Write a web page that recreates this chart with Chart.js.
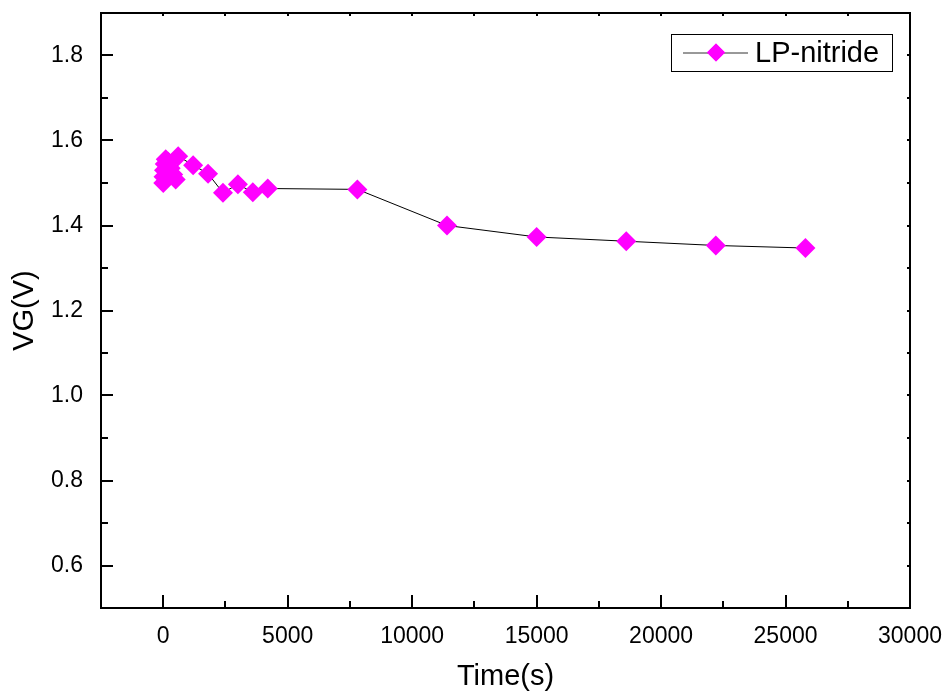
<!DOCTYPE html>
<html>
<head>
<meta charset="utf-8">
<script src="https://cdn.jsdelivr.net/npm/chart.js@4"></script>
<style>
  html, body { margin: 0; padding: 0; background: #fff; }
  #wrap { width: 947px; height: 695px; }
</style>
</head>
<body>
<div id="wrap"><canvas id="vgChart" width="947" height="695"></canvas></div>
<script>
"use strict";
// stress time (s) and gate voltage (V)
var timeS = [1, 10, 30, 60, 100, 200, 300, 400, 500, 600, 1200, 1800, 2400, 3000, 3600, 4200, 7800, 11400, 15000, 18600, 22200, 25800];
var vg = [1.500, 1.515, 1.530, 1.545, 1.556, 1.550, 1.535, 1.520, 1.508, 1.563, 1.542, 1.522, 1.477, 1.497, 1.478, 1.487, 1.485, 1.400, 1.373, 1.363, 1.353, 1.347];
var seriesName = 'LP-nitride';
var xTicks = [0, 5000, 10000, 15000, 20000, 25000, 30000];
var yTicks = [0.6, 0.8, 1.0, 1.2, 1.4, 1.6, 1.8];

var FONT = '"Liberation Sans", Arial, sans-serif';
var MAGENTA = '#ff00ff';

var points = timeS.map(function (t, i) { return { x: t, y: vg[i] }; });

// frame with inward ticks, Origin style
var framePlugin = {
    id: 'frame',
    afterDatasetsDraw: function (chart) {
        var ctx = chart.ctx, a = chart.chartArea;
        var xs = chart.scales.x, ys = chart.scales.y;
        ctx.save();
        ctx.strokeStyle = '#000';
        ctx.lineWidth = 2;
        ctx.strokeRect(a.left, a.top, a.right - a.left, a.bottom - a.top);
        ctx.beginPath();
        var v, p, len;
        for (v = -2500; v <= 30000; v += 2500) {
            p = Math.round(xs.getPixelForValue(v));
            len = (v % 5000 === 0) ? 13 : 7;
            ctx.moveTo(p, a.bottom); ctx.lineTo(p, a.bottom - len);
            ctx.moveTo(p, a.top); ctx.lineTo(p, a.top + 3);
        }
        for (v = 5; v <= 19; v++) {
            p = Math.round(ys.getPixelForValue(v / 10));
            len = (v % 2 === 0) ? 12 : 7;
            ctx.moveTo(a.left, p); ctx.lineTo(a.left + len, p);
            ctx.moveTo(a.right, p); ctx.lineTo(a.right - 3, p);
        }
        ctx.stroke();
        ctx.restore();
    }
};

// boxed legend in the upper right corner
var legendPlugin = {
    id: 'boxLegend',
    afterDraw: function (chart) {
        var ctx = chart.ctx, ds = chart.data.datasets[0];
        var bx = 671, by = 34, bw = 221, bh = 37, cy = by + bh / 2;
        ctx.save();
        ctx.fillStyle = '#fff';
        ctx.fillRect(bx, by, bw, bh);
        ctx.strokeStyle = '#000';
        ctx.lineWidth = 1;
        ctx.strokeRect(bx + 0.5, by + 0.5, bw, bh);
        ctx.strokeStyle = '#333';
        ctx.beginPath();
        ctx.moveTo(683, cy + 0.5); ctx.lineTo(748, cy + 0.5);
        ctx.stroke();
        ctx.fillStyle = ds.pointBackgroundColor;
        Chart.helpers.drawPoint(ctx, { pointStyle: 'rectRot', radius: 9, borderWidth: 0 }, 716, cy);
        ctx.fill();
        ctx.fillStyle = '#000';
        ctx.font = '29px ' + FONT;
        ctx.textBaseline = 'middle';
        ctx.textAlign = 'left';
        ctx.fillText(ds.label, 755, cy + 1);
        ctx.restore();
    }
};

new Chart(document.getElementById('vgChart'), {
    type: 'line',
    data: {
        datasets: [{
            label: seriesName,
            data: points,
            borderColor: '#000',
            borderWidth: 1,
            pointStyle: 'rectRot',
            pointRadius: 10,
            pointHoverRadius: 10,
            pointBorderWidth: 0,
            pointBackgroundColor: MAGENTA,
            pointBorderColor: MAGENTA,
            tension: 0,
            fill: false
        }]
    },
    options: {
        responsive: false,
        animation: false,
        events: [],
        layout: { padding: { left: 0, top: 13, right: 37, bottom: 0 } },
        plugins: { legend: { display: false }, tooltip: { enabled: false } },
        scales: {
            x: {
                type: 'linear',
                min: -2500, max: 30000,
                grid: { display: false },
                border: { display: false },
                afterFit: function (s) { s.height = 87; s.paddingLeft = 0; s.paddingRight = 0; },
                afterBuildTicks: function (s) { s.ticks = xTicks.map(function (v) { return { value: v }; }); },
                ticks: {
                    padding: 7, color: '#000', maxRotation: 0, autoSkip: false,
                    font: { family: FONT, size: 23 },
                    callback: function (v) { return String(v); }
                },
                title: {
                    display: true, text: 'Time(s)', color: '#000',
                    font: { family: FONT, size: 29 },
                    padding: { top: 0, bottom: 1 }
                }
            },
            y: {
                min: 0.5, max: 1.9,
                grid: { display: false },
                border: { display: false },
                afterFit: function (s) { s.width = 101; s.paddingTop = 0; s.paddingBottom = 0; },
                afterBuildTicks: function (s) { s.ticks = yTicks.map(function (v) { return { value: v }; }); },
                ticks: {
                    padding: 10, color: '#000',
                    font: { family: FONT, size: 23 },
                    callback: function (v) { return Number(v).toFixed(1); }
                },
                title: {
                    display: true, text: 'VG(V)', color: '#000',
                    font: { family: FONT, size: 29 },
                    padding: { top: 8, bottom: 0 }
                }
            }
        }
    },
    plugins: [framePlugin, legendPlugin]
});
</script>
</body>
</html>
